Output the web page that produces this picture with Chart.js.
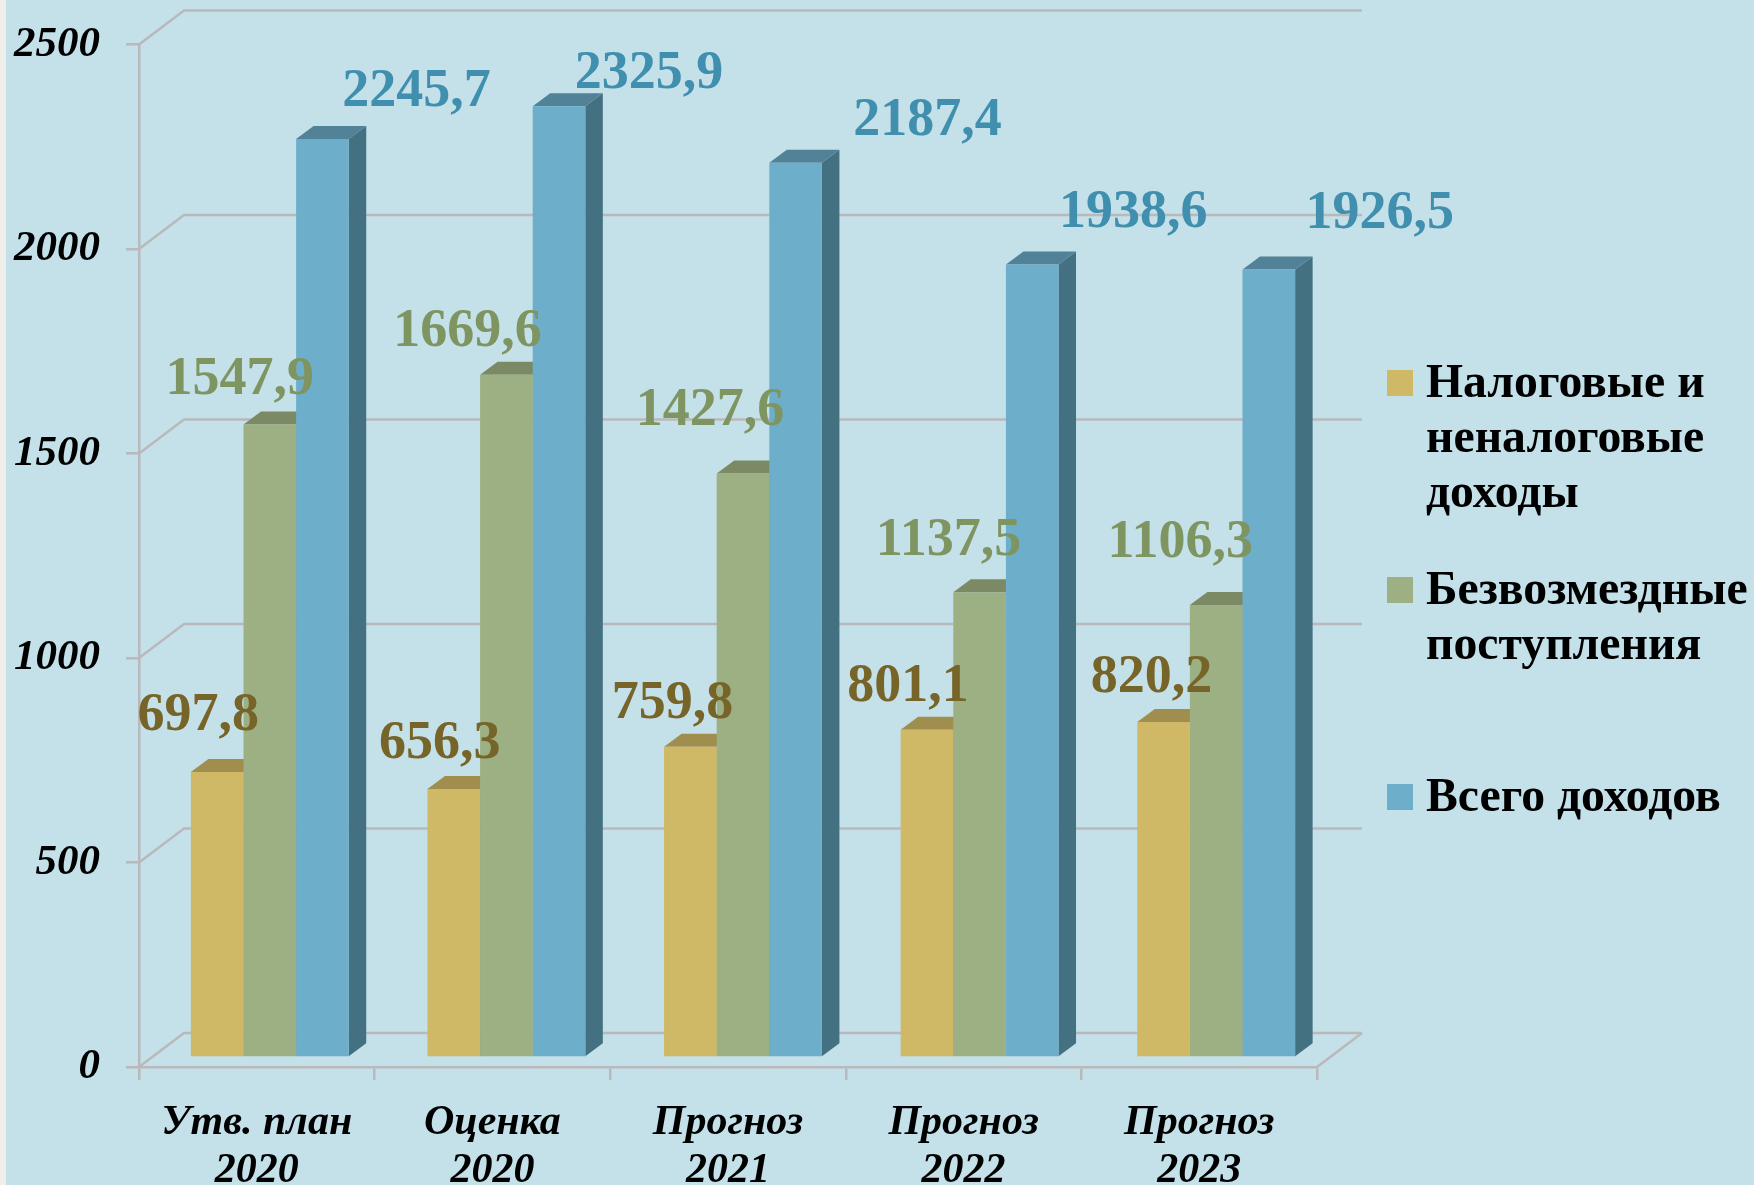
<!DOCTYPE html>
<html lang="ru">
<head>
<meta charset="UTF-8">
<title>Доходы</title>
<style>
  html, body { margin: 0; padding: 0; background: #c4e0e9; }
  #strip { position: absolute; left: 0; top: 0; width: 6px; height: 1185px; background: #f0eee8; }
  #plot { display: block; }
</style>
</head>
<body>
<canvas id="plot" width="1754" height="1185"></canvas>
<div id="strip"></div>
<script src="https://cdn.jsdelivr.net/npm/chart.js@4"></script>
<script>
// values
const categories = [['Утв. план', '2020'], ['Оценка', '2020'], ['Прогноз', '2021'], ['Прогноз', '2022'], ['Прогноз', '2023']];
const taxIncome = [697.8, 656.3, 759.8, 801.1, 820.2];
const grants = [1547.9, 1669.6, 1427.6, 1137.5, 1106.3];
const totalIncome = [2245.7, 2325.9, 2187.4, 1938.6, 1926.5];
const seriesNames = [['Налоговые и', 'неналоговые', 'доходы'], ['Безвозмездные', 'поступления'], ['Всего доходов']];

const serif = '"Liberation Serif", "Times New Roman", serif';
const gridColor = '#b9b9bb';
const front = ['#cfb966', '#9db084', '#6dafcb'];
const side = ['#7d6e3c', '#66745a', '#447181'];
const topFace = ['#a08e4e', '#7b8a65', '#528298'];
const labelColors = ['#766428', '#7f9561', '#418fae'];

// the labels were dragged by hand in the original, so each has its own nudge from the bar top
const labelNudge = [
  [[-19, -56], [-14, -45], [-18, -43], [-19, -43], [-12, -44]],
  [[-30, -44], [-39, -43], [-33, -63], [-31, -51], [-36, -62]],
  [[94, -47], [90, -32], [132, -42], [101, -52], [111, -56]],
];

const wall = { dx: 45, dy: 34 };      // floor/back wall offset
const barShift = { dx: 13, dy: 9.5, drift: 1 };  // bars stand inside the floor, pitch a bit wider than the ticks
const depth = { dx: 17.5, dy: 13 };

function poly(ctx, pts, color) {
  ctx.fillStyle = color;
  ctx.beginPath();
  pts.forEach((p, i) => (i ? ctx.lineTo(p[0], p[1]) : ctx.moveTo(p[0], p[1])));
  ctx.closePath();
  ctx.fill();
}

const fake3d = {
  id: 'fake3d',
  afterDatasetsUpdate(chart) {
    chart.data.datasets.forEach((ds, i) => {
      chart.getDatasetMeta(i).data.forEach((bar, j) => {
        bar.x += barShift.dx + j * barShift.drift;
        bar.y -= barShift.dy;
        bar.base -= barShift.dy;
      });
    });
  },
  beforeDatasetsDraw(chart) {
    const { ctx, chartArea, scales } = chart;
    // back wall lines and the diagonals on the left wall
    ctx.save();
    ctx.strokeStyle = gridColor;
    ctx.lineWidth = 2.5;
    scales.y.ticks.forEach((t) => {
      const y = scales.y.getPixelForValue(t.value);
      ctx.beginPath();
      ctx.moveTo(chartArea.left, y);
      ctx.lineTo(chartArea.left + wall.dx, y - wall.dy);
      ctx.lineTo(chartArea.right + wall.dx, y - wall.dy);
      ctx.stroke();
    });
    ctx.beginPath();
    ctx.moveTo(chartArea.right, chartArea.bottom);
    ctx.lineTo(chartArea.right + wall.dx, chartArea.bottom - wall.dy);
    ctx.stroke();

    chart.data.datasets.forEach((ds, i) => {
      chart.getDatasetMeta(i).data.forEach((bar) => {
        const l = bar.x - bar.width / 2;
        const r = bar.x + bar.width / 2;
        poly(ctx, [[r, bar.y], [r + depth.dx, bar.y - depth.dy], [r + depth.dx, bar.base - depth.dy], [r, bar.base]], side[i]);
        poly(ctx, [[l, bar.y], [l + depth.dx, bar.y - depth.dy], [r + depth.dx, bar.y - depth.dy], [r, bar.y]], topFace[i]);
      });
    });
    ctx.restore();
  },
  afterDatasetsDraw(chart) {
    const { ctx } = chart;
    ctx.save();
    ctx.font = 'bold 54px ' + serif;
    ctx.textAlign = 'center';
    ctx.textBaseline = 'middle';
    chart.data.datasets.forEach((ds, i) => {
      ctx.fillStyle = labelColors[i];
      chart.getDatasetMeta(i).data.forEach((bar, j) => {
        const text = ds.data[j].toFixed(1).replace('.', ',');
        ctx.fillText(text, bar.x + labelNudge[i][j][0], bar.y + labelNudge[i][j][1]);
      });
    });
    ctx.restore();
  },
  afterDraw(chart) {
    const { ctx } = chart;
    const legendX = 1387;
    const rowTop = [370, 577, 784];
    ctx.save();
    ctx.font = 'bold 47.7px ' + serif;
    ctx.textBaseline = 'alphabetic';
    seriesNames.forEach((lines, i) => {
      ctx.fillStyle = front[i];
      ctx.fillRect(legendX, rowTop[i], 26, 26);
      ctx.fillStyle = '#000';
      lines.forEach((line, k) => ctx.fillText(line, legendX + 39, rowTop[i] + 27 + k * 55));
    });
    ctx.restore();
  },
};

new Chart(document.getElementById('plot'), {
  type: 'bar',
  data: {
    labels: categories,
    datasets: [
      { label: seriesNames[0].join(' '), data: taxIncome, backgroundColor: front[0] },
      { label: seriesNames[1].join(' '), data: grants, backgroundColor: front[1] },
      { label: seriesNames[2].join(' '), data: totalIncome, backgroundColor: front[2] },
    ],
  },
  options: {
    responsive: false,
    animation: false,
    layout: { padding: { top: 44.5, right: 437, bottom: 0, left: 0 } },
    categoryPercentage: 0.67,
    barPercentage: 1,
    plugins: { legend: { display: false }, tooltip: { enabled: false } },
    scales: {
      x: {
        afterFit(scale) {
          scale.height = 118;
          scale.paddingLeft = 0;
          scale.paddingRight = 0;
        },
        border: { color: gridColor, width: 2.5 },
        grid: { drawOnChartArea: false, color: gridColor, lineWidth: 2.5, tickLength: 13 },
        ticks: {
          color: '#000',
          maxRotation: 0,
          autoSkip: false,
          padding: 19,
          font: { family: serif, size: 42, style: 'italic', weight: 'bold', lineHeight: 1.14 },
        },
      },
      y: {
        min: 0,
        max: 2500,
        afterFit(scale) {
          scale.width = 139;
          scale.paddingTop = 0;
          scale.paddingBottom = 0;
        },
        border: { color: gridColor, width: 2.5 },
        grid: { drawOnChartArea: false, color: gridColor, lineWidth: 2.5, tickLength: 13 },
        ticks: {
          stepSize: 500,
          color: '#000',
          padding: 26,
          font: { family: serif, size: 43, style: 'italic', weight: 'bold' },
          callback: (v) => String(v),
        },
      },
    },
  },
  plugins: [fake3d],
});
</script>
</body>
</html>
